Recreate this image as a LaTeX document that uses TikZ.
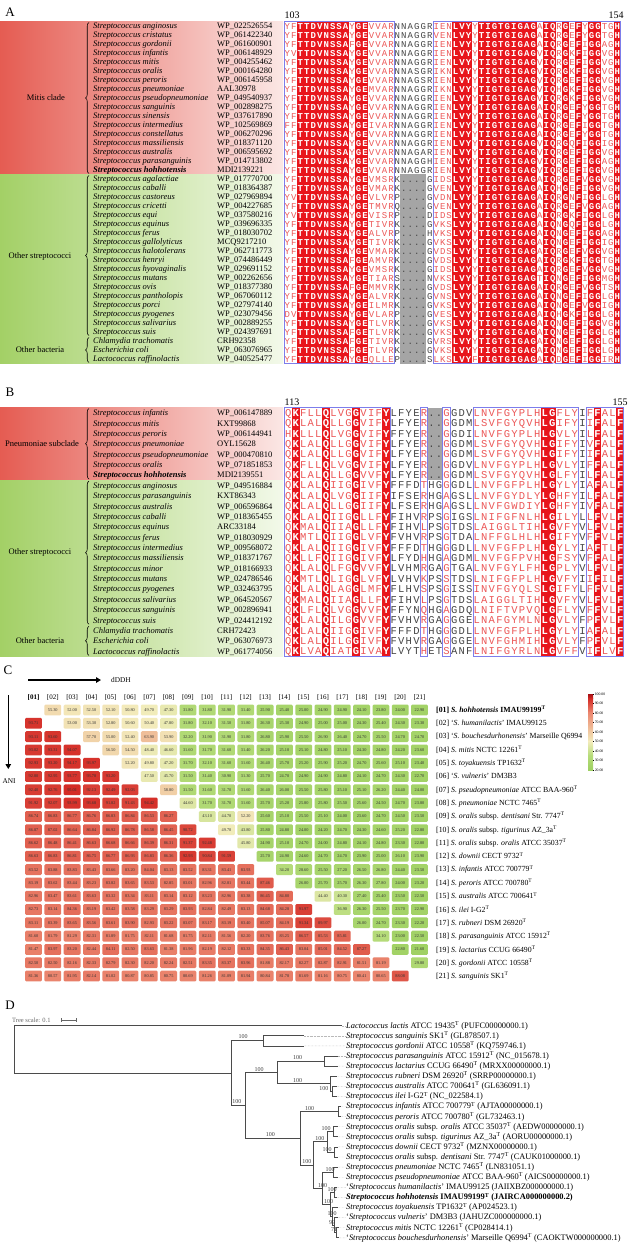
\documentclass[tikz,border=0pt]{standalone}
\usepackage{fontspec}
\setmainfont{Liberation Serif}
\newfontfamily\monofam{Liberation Mono}
\usetikzlibrary{decorations.pathreplacing,arrows.meta}

\definecolor{alnred}{RGB}{232,22,28}
\definecolor{alnpink}{RGB}{236,88,88}
\definecolor{alngray}{RGB}{70,70,70}
\definecolor{alnblue}{RGB}{125,125,235}
\definecolor{gapgray}{RGB}{165,165,165}
\definecolor{mitisL}{RGB}{229,92,82}
\definecolor{mitisR}{RGB}{251,231,229}
\definecolor{othL}{RGB}{163,208,102}
\definecolor{othR}{RGB}{243,249,234}
\definecolor{cRa}{RGB}{212,44,38}
\definecolor{cRb}{RGB}{235,136,112}
\definecolor{cYc}{RGB}{243,236,188}
\definecolor{cGd}{RGB}{182,220,122}
\definecolor{cGe}{RGB}{158,208,98}
\definecolor{legtop}{RGB}{165,15,20}
\definecolor{treegray}{RGB}{75,75,75}

\newcount\alnidx
\newtoks\alntoks
\def\setcls#1#2{\alnidx=0 \def\clspanel{#1}\setclswalk#2\relax}
\def\setclswalk#1{\ifx\relax#1\let\clsnext\relax\else\advance\alnidx by 1 \expandafter\xdef\csname cls\clspanel\the\alnidx\endcsname{#1}\let\clsnext\setclswalk\fi\clsnext}
\setcls{A}{pp RRRRRRRR p RR pppp nnnnnn ppp RRR p RRRRRRRRR p RR p R p R p RR p p R}
\setcls{B}{p R ppp R ppp R ppp R nnnn p nn p nnn ppppppppp RR ppp n p R pp R}

\def\xoA{284}\def\cwA{6.47}\def\yoA{26}\def\rhA{9}\def\bsA{3.1}
\def\xoB{284.2}\def\cwB{7.545}\def\yoB{412.7}\def\rhB{10.37}\def\bsB{3.7}

\def\alnstyleR{\bfseries\color{white}}
\def\alnstylep{\color{alnpink}}
\def\alnstylen{\color{alngray}}
\def\alnbox#1#2{\makebox[\alncw pt]{\csname alnstyle#1\endcsname #2}}
\def\alnadd#1{\advance\alnidx by 1 \edef\alntmp{\the\alntoks\noexpand\alnbox{\csname cls\alnpanel\the\alnidx\endcsname}{#1}}\alntoks=\expandafter{\alntmp}}
\def\alnwalk#1{\ifx\relax#1\let\alnnext\relax\else\def\alnnext{\alnadd{#1}\alnwalk}\fi\alnnext}
\def\alnrow#1#2#3{\alnidx=0 \alntoks={}\def\alnpanel{#1}\edef\alncw{\csname cw#1\endcsname}\alnwalk#3\relax
  \pgfmathsetmacro\alnx{\csname xo#1\endcsname}%
  \pgfmathsetmacro\alny{\csname yo#1\endcsname+(#2-1)*\csname rh#1\endcsname+\csname bs#1\endcsname}%
  \node[alntext#1] (aln#1#2) at (\alnx,\alny) {\the\alntoks};}

\def\mcellcol#1{%
  \pgfmathtruncatemacro\mseg{#1>=80?1:(#1>=50?2:(#1>=35?3:4))}%
  \ifcase\mseg\or
    \pgfmathtruncatemacro\mpc{min(100,max(0,(#1-80)*100/15))}\colorlet{cc}{cRa!\mpc!cRb}%
  \or
    \pgfmathtruncatemacro\mpc{(#1-50)*100/30}\colorlet{cc}{cRb!\mpc!cYc}%
  \or
    \pgfmathtruncatemacro\mpc{(#1-35)*100/15}\colorlet{cc}{cYc!\mpc!cGd}%
  \or
    \pgfmathtruncatemacro\mpc{max(0,(#1-20)*100/15)}\colorlet{cc}{cGd!\mpc!cGe}%
  \fi}

\expandafter\def\csname mrow1\endcsname{0,55.30,52.00,52.50,52.10,50.80,49.70,47.30,31.80,31.80,31.90,31.40,25.90,25.40,25.00,24.90,24.90,24.10,23.80,24.00,22.90}
\expandafter\def\csname mrow2\endcsname{93.71,0,53.00,53.30,52.80,50.60,50.40,47.80,31.80,32.10,31.50,31.80,26.30,25.30,24.90,25.00,25.00,24.30,25.40,24.30,23.30}
\expandafter\def\csname mrow3\endcsname{93.11,93.60,0,57.70,55.00,52.40,63.90,53.90,32.20,31.90,31.90,31.80,26.80,25.90,25.50,26.90,26.40,24.70,25.50,24.70,24.70}
\expandafter\def\csname mrow4\endcsname{93.02,93.31,94.07,0,56.50,54.50,48.40,46.60,31.60,31.70,31.60,31.40,26.20,25.10,25.10,24.80,25.10,24.30,24.80,24.20,23.60}
\expandafter\def\csname mrow5\endcsname{92.93,93.20,94.17,93.97,0,52.20,49.80,47.20,31.70,32.10,31.60,31.60,26.40,25.70,25.20,25.90,25.20,24.70,25.60,25.10,23.40}
\expandafter\def\csname mrow6\endcsname{92.80,92.95,93.77,93.78,93.20,0,47.50,45.70,31.50,31.40,30.90,31.30,25.70,24.70,24.90,24.90,24.80,24.10,24.70,24.30,22.70}
\expandafter\def\csname mrow7\endcsname{92.40,92.76,95.01,92.13,92.49,92.03,0,58.80,31.50,31.60,31.70,31.60,26.40,26.00,25.50,25.80,25.10,25.10,26.20,24.40,24.00}
\expandafter\def\csname mrow8\endcsname{91.92,92.07,93.99,93.68,91.82,91.43,94.42,0,44.60,31.70,31.70,31.60,25.70,25.20,25.80,25.80,25.50,25.60,24.50,24.70,23.80}
\expandafter\def\csname mrow9\endcsname{86.74,86.83,86.77,86.76,86.83,86.84,86.53,86.27,0,43.10,44.70,52.20,25.60,25.10,25.50,25.10,24.00,23.60,24.70,24.50,23.50}
\expandafter\def\csname mrow10\endcsname{86.87,87.02,86.64,86.84,86.92,86.78,86.58,86.45,90.72,0,49.70,43.80,25.80,24.80,24.00,24.20,24.70,24.30,24.60,25.20,22.80}
\expandafter\def\csname mrow11\endcsname{86.62,86.48,86.41,86.63,86.68,86.66,86.39,86.31,91.37,92.48,0,45.80,24.90,25.10,24.70,24.00,24.80,24.10,24.80,23.30,22.80}
\expandafter\def\csname mrow12\endcsname{86.63,86.83,86.81,86.75,86.77,86.93,86.83,86.36,92.93,90.84,91.59,0,25.70,24.90,24.60,24.70,24.70,23.90,25.00,26.10,23.90}
\expandafter\def\csname mrow13\endcsname{83.52,83.88,83.83,83.43,83.66,83.20,84.04,83.13,83.52,83.31,83.41,83.93,0,34.20,28.60,25.50,27.20,26.50,26.80,24.40,23.50}
\expandafter\def\csname mrow14\endcsname{83.19,83.62,83.44,83.23,83.82,83.65,83.53,82.85,83.01,82.96,82.81,83.44,87.46,0,26.00,25.70,25.70,26.30,27.80,24.00,23.20}
\expandafter\def\csname mrow15\endcsname{82.96,83.47,83.61,83.63,83.32,83.34,83.11,83.14,83.12,83.23,82.96,83.38,86.45,84.80,0,44.40,40.30,27.40,25.40,23.50,22.50}
\expandafter\def\csname mrow16\endcsname{82.73,83.14,84.36,83.19,83.42,83.58,83.29,83.29,83.93,82.84,82.49,83.13,84.68,84.28,91.97,0,36.90,26.30,25.50,23.70,22.90}
\expandafter\def\csname mrow17\endcsname{83.11,83.39,83.65,83.56,83.61,83.90,82.93,83.22,83.07,83.17,83.19,83.40,85.07,84.19,91.34,89.97,0,26.00,24.70,23.30,22.20}
\expandafter\def\csname mrow18\endcsname{81.60,81.79,81.29,82.31,81.89,81.75,82.11,81.68,81.75,82.11,81.56,82.20,83.76,83.25,86.57,85.53,85.81,0,34.10,23.00,22.50}
\expandafter\def\csname mrow19\endcsname{81.47,83.97,83.20,82.44,84.11,82.50,83.63,81.38,81.96,82.19,82.12,83.33,84.35,86.43,83.04,85.01,84.52,87.27,0,22.80,21.60}
\expandafter\def\csname mrow20\endcsname{82.50,82.50,82.16,82.33,82.79,82.30,82.20,82.24,82.51,83.35,83.37,83.96,81.88,82.17,82.27,82.87,82.91,81.51,81.19,0,29.80}
\expandafter\def\csname mrow21\endcsname{81.36,80.57,81.95,82.14,81.02,80.87,80.85,80.75,80.69,81.26,81.09,81.94,80.84,81.78,81.69,81.16,80.75,80.41,80.65,88.08,0}

\tikzset{
 plet/.style={font=\fontsize{13}{13}\selectfont, inner sep=0},
 splab/.style={anchor=base west, inner sep=0, font=\itshape\fontsize{8.5}{9}\selectfont},
 aclab/.style={anchor=base west, inner sep=0, font=\fontsize{8.5}{9}\selectfont},
 cladelab/.style={inner sep=0, font=\fontsize{8.5}{9}\selectfont},
 clbrace/.style={decorate, decoration={brace, amplitude=3.5pt}, line width=0.55pt},
 posnum/.style={inner sep=0, font=\fontsize{10}{10}\selectfont},
 alntextA/.style={anchor=base west, inner sep=0, font=\monofam\fontsize{9}{9}\selectfont},
 alntextB/.style={anchor=base west, inner sep=0, font=\monofam\fontsize{10.5}{10.5}\selectfont},
 blueframe/.style={draw=alnblue, line width=0.5pt},
 mcell/.style={rectangle, rounded corners=1.2pt, minimum width=16.8pt, minimum height=10.8pt, inner sep=0, font=\fontsize{4.3}{4.3}\selectfont, text=black!80},
 mhead/.style={inner sep=0, font=\fontsize{7}{7}\selectfont},
 clab/.style={anchor=west, inner sep=0, font=\fontsize{7.8}{8}\selectfont},
 leglab/.style={anchor=west, inner sep=0, font=\fontsize{3.8}{4}\selectfont},
 bigarrow/.style={line width=1.4pt, -{Triangle[length=5pt,width=5.5pt]}},
 branch/.style={draw=treegray, line width=0.8pt},
 leader/.style={draw=gray!55, line width=0.4pt, densely dotted},
 leaf/.style={anchor=west, inner sep=0, font=\fontsize{8.4}{9}\selectfont},
 boot/.style={inner sep=0, font=\fontsize{6}{6}\selectfont, text=black!75},
}

\begin{document}
\begin{tikzpicture}[x=1pt,y=-1pt]
\useasboundingbox (0,0) rectangle (631,1249);
\fill[white] (0,0) rectangle (631,1249);

% panel letters
\node[plet] (labA) at (10,12) {A};
\node[plet] (labB) at (10,392) {B};
\node[plet] (labC) at (8,670) {C};
\node[plet] (labD) at (10,1005) {D};

% ================= PANEL A =================
\shade[left color=mitisL,right color=mitisR] (0,21.5) rectangle (283,174.5);
\shade[left color=othL,right color=othR] (0,174.5) rectangle (283,363.5);
\draw[clbrace] (89,173.5) -- (89,22.5);
\draw[clbrace] (89,335.5) -- (89,175.5);
\draw[clbrace] (89,362.5) -- (89,337.5);
\node[cladelab] (cladeA1) at (46,98) {Mitis clade};
\node[cladelab] (cladeA2) at (40,256) {Other streptococci};
\node[cladelab] (cladeA3) at (40,350) {Other bacteria};

\foreach \i in {1,...,52}{\edef\alncls{\csname clsA\i\endcsname}\if R\alncls\fill[alnred] ({284+(\i-1)*6.47},21.5) rectangle ({284+\i*6.47+0.3},363.5);\fi}
\fill[gapgray] ({284+18*6.47},174.5) rectangle ({284+22*6.47},363.5);
\draw[blueframe] (284,21.5) rectangle ({284+17*6.47},363.5);
\draw[blueframe] ({284+23*6.47},21.5) rectangle ({284+52*6.47},363.5);
\node[posnum] (nA1) at (292,15) {103};
\node[posnum] (nA2) at (616,15) {154};

\foreach \i/\spn/\accn in {
1/Streptococcus anginosus/WP\_022526554,
2/Streptococcus cristatus/WP\_061422340,
3/Streptococcus gordonii/WP\_061600901,
4/Streptococcus infantis/WP\_006148929,
5/Streptococcus mitis/WP\_004255462,
6/Streptococcus oralis/WP\_000164280,
7/Streptococcus peroris/WP\_006145958,
8/Streptococcus pneumoniae/AAL30978,
9/Streptococcus pseudopneumoniae/WP\_049540937,
10/Streptococcus sanguinis/WP\_002898275,
11/Streptococcus sinensis/WP\_037617890,
12/Streptococcus intermedius/WP\_102569869,
13/Streptococcus constellatus/WP\_006270296,
14/Streptococcus massiliensis/WP\_018371120,
15/Streptococcus australis/WP\_006595692,
16/Streptococcus parasanguinis/WP\_014713802,
17/\bfseries Streptococcus hohhotensis/MDI2139221,
18/Streptococcus agalactiae/WP\_017770700,
19/Streptococcus caballi/WP\_018364387,
20/Streptococcus castoreus/WP\_027969894,
21/Streptococcus cricetti/WP\_004227685,
22/Streptococcus equi/WP\_037580216,
23/Streptococcus equinus/WP\_039696335,
24/Streptococcus ferus/WP\_018030702,
25/Streptococcus gallolyticus/MCQ9217210,
26/Streptococcus halotolerans/WP\_062711773,
27/Streptococcus henryi/WP\_074486449,
28/Streptococcus hyovaginalis/WP\_029691152,
29/Streptococcus mutans/WP\_002262656,
30/Streptococcus ovis/WP\_018377380,
31/Streptococcus pantholopis/WP\_067060112,
32/Streptococcus porci/WP\_027974140,
33/Streptococcus pyogenes/WP\_023079456,
34/Streptococcus salivarius/WP\_002889255,
35/Streptococcus suis/WP\_024397691,
36/Chlamydia trachomatis/CRH92358,
37/Escherichia coli/WP\_063076965,
38/Lactococcus raffinolactis/WP\_040525477}{
  \node[splab] (spA\i) at (93,{26+(\i-1)*9+2.9}) {\spn};
  \node[aclab] (acA\i) at (217,{26+(\i-1)*9+2.9}) {\accn};
}

\alnrow{A}{1}{YF TTDVNSSA Y GE VVAR NNAGGR IEN LVY Y TIGTGIGAG A IQ R G E F Y GG T G H}
\alnrow{A}{2}{YF TTDVNSSA Y GE VVAR NNAGGR VEN LVY Y TIGTGIGAG A IQ R G E F Y GG T G H}
\alnrow{A}{3}{YF TTDVNSSA F GE VVAR NNAGGR IEN LVY Y TIGTGIGAG A IQ R G E F I GG A G H}
\alnrow{A}{4}{YV TTDVNSSA Y GE VVAR NNAGGR IEN LVY Y TIGTGIGAG V IQ R G K F I GG V G H}
\alnrow{A}{5}{YF TTDVNSSA Y GE VVAR NNAGGR IEN LVY Y TIGTGIGAG V IQ R G E F I GG V G H}
\alnrow{A}{6}{YF TTDVNSSA Y GE VVAR NNASGR IKN LVY Y TIGTGIGAG V IQ R G K F I GG V G H}
\alnrow{A}{7}{YF TTDVNSSA Y GE VVAR NNAGSR IEN LVY Y TIGTGIGAG V IQ R G E F I GG V G H}
\alnrow{A}{8}{YF TTDVNSSA Y GE MVAR NNAGGR IKN LVY Y TIGTGIGAG V IQ H G K F I GG V G H}
\alnrow{A}{9}{YF TTDVNSSA Y GE VVAR NNAGGR IEN LVY Y TIGTGIGAG V IQ R G K F I GG V G H}
\alnrow{A}{10}{YF TTDVNSSA Y GE VVAR NNAGGR IEN LVY Y TIGTGIGAG A IQ R G E F Y GG T G H}
\alnrow{A}{11}{YF TTDVNSSA Y GE VVAR NNAGGR IEN LVY Y TIGTGIGAG A IQ R G E F Y GG T G H}
\alnrow{A}{12}{FF TTDVNSSA Y GE IVAR NNAGGR IEN LVY Y TIGTGIGAG A IQ R G E F I GG T G H}
\alnrow{A}{13}{YF TTDVNSSA Y GE VVAR NNAGGR IEN LVY Y TIGTGIGAG A IQ R G E F Y GG T G H}
\alnrow{A}{14}{YF TTDVNSSA Y GE VVAR NNAGGR IEN LVY Y TIGTGIGAG V IQ R G Q F I GG I G H}
\alnrow{A}{15}{YF TTDVNSSA Y GE VVAR NNAGAR IEN LVY Y TIGTGIGAG V IQ R G E F I GG V G H}
\alnrow{A}{16}{YF TTDVNSSA Y GE VVAR NNAGGH IEN LVY Y TIGTGIGAG V IQ R G E F I GG A G H}
\alnrow{A}{17}{YF TTDVNSSA Y GE VVAR NNAGGR IEN LVY Y TIGTGIGAG V IQ R G E F I GG V G H}
\alnrow{A}{18}{YF TTDVNSSA Y GE VMSR K....G IDS LVY Y TIGTGIGAG A IQ R G E F V GG V G H}
\alnrow{A}{19}{YF TTDVNSSA Y GE VMAR K....G VEN LVY Y TIGTGIGAG A IQ H G E F I GG V G H}
\alnrow{A}{20}{YV TTDVNSSA Y GE VLVR P....G VDN LVY Y TIGTGIGAG A IQ R G N F I GG L G H}
\alnrow{A}{21}{YF TTDVNSSA Y GE TMVR Q....G VEN LVY Y TIGTGIGAG A IQ R G E F V GG A G H}
\alnrow{A}{22}{YV TTDVNSSA Y GE VISR P....D IDS LVY Y TIGTGIGAG A IQ R G K F I GG L G H}
\alnrow{A}{23}{YF TTDVNSSA Y GE TIVR K....G VKS LVY Y TIGTGIGAG A IQ N G Q F I GG L G H}
\alnrow{A}{24}{YF TTDVNSSA Y GE ALVR P....H VKS LVY Y TIGTGIGAG A IQ N G E F I GG A G H}
\alnrow{A}{25}{YF TTDVNSSA Y GE TIVR K....G VKS LVY Y TIGTGIGAG A IQ N G E F I GG I G H}
\alnrow{A}{26}{YF TTDVNSSA Y GE VMAR K....G VDS LVY Y TIGTGIGAG A IQ R G E F V GG V G H}
\alnrow{A}{27}{YF TTDVNSSA F GE AMVR K....G VDS LVY Y TIGTGIGAG A IQ R G K F I GG T G H}
\alnrow{A}{28}{YF TTDVNSSA Y GE VMSR K....G IDS LVY Y TIGTGIGAG A IQ R G E F V GG V G H}
\alnrow{A}{29}{YF TTDVNSSA Y GE TIAR S....N VKS LVY Y TIGTGIGAG T IQ N G E F I GG M G H}
\alnrow{A}{30}{YF TTDVNSSA F GE MMVR K....G VDS LVY Y TIGTGIGAG A IQ R G E F V GG T S H}
\alnrow{A}{31}{YF TTDVNSSA Y GE ALVR K....G VNS LVY Y TIGTGIGAG A IQ N G E F I GG L G H}
\alnrow{A}{32}{YF TTDVNSSA Y GE ILMR K....G VKS LVY Y TIGTGIGAG A IQ N G E F V GG I G H}
\alnrow{A}{33}{DV TTDVNSSA Y GE VLAR P....G VES LVY Y TIGTGIGAG A IQ H G K F I GG L G H}
\alnrow{A}{34}{YF TTDVNSSA Y GE TLVR K....G VKS LVY Y TIGTGIGAG A IQ N G E F I GG V G H}
\alnrow{A}{35}{YF TTDVNSSA F GE TLVR K....G VKS LVY Y TIGTGIGAG A IQ N G E F I GG L G H}
\alnrow{A}{36}{YF TTDVNSSA F GE TIVR K....G VRS LVY Y TIGTGIGAG A IQ N G E F I GG L G H}
\alnrow{A}{37}{YF TTDVNSSA F GE TLVR K....G VKS LVY Y TIGTGIGAG A IQ N G E F I GG L G H}
\alnrow{A}{38}{YF TTDVNSSA Y GE QLLE P....S LKS LVY F TIGTGIGAG A IQ D G E F I GG I R H}

% ================= PANEL B =================
\shade[left color=mitisL,right color=mitisR] (0,407.5) rectangle (283,480.09);
\shade[left color=othL,right color=othR] (0,480.09) rectangle (283,656.38);
\draw[clbrace] (89,479.1) -- (89,408.5);
\draw[clbrace] (89,624.3) -- (89,481.1);
\draw[clbrace] (89,655.4) -- (89,626.3);
\node[cladelab] (cladeB1) at (42,443.8) {Pneumoniae subclade};
\node[cladelab] (cladeB2) at (40,552.7) {Other streptococci};
\node[cladelab] (cladeB3) at (40,640.8) {Other bacteria};

\foreach \i in {1,...,45}{\edef\alncls{\csname clsB\i\endcsname}\if R\alncls\fill[alnred] ({284.2+(\i-1)*7.545},407.5) rectangle ({284.2+\i*7.545+0.3},656.38);\fi}
\fill[gapgray] ({284.2+19*7.545},407.5) rectangle ({284.2+21*7.545},480.09);
\draw[blueframe] (284.2,407.5) rectangle ({284.2+14*7.545},656.38);
\draw[blueframe] ({284.2+18*7.545},407.5) rectangle ({284.2+19*7.545},656.38);
\draw[blueframe] ({284.2+21*7.545},407.5) rectangle ({284.2+22*7.545},656.38);
\draw[blueframe] ({284.2+25*7.545},407.5) rectangle ({284.2+39*7.545},656.38);
\draw[blueframe] ({284.2+40*7.545},407.5) rectangle ({284.2+45*7.545},656.38);
\node[posnum] (nB1) at (292,402) {113};
\node[posnum] (nB2) at (620,402) {155};

\foreach \i/\spn/\accn in {
1/Streptococcus infantis/WP\_006147889,
2/Streptococcus mitis/KXT99868,
3/Streptococcus peroris/WP\_006144941,
4/Streptococcus pneumoniae/OYL15628,
5/Streptococcus pseudopneumoniae/WP\_000470810,
6/Streptococcus oralis/WP\_071851853,
7/\bfseries Streptococcus hohhotensis/MDI2139551,
8/Streptococcus anginosus/WP\_049516884,
9/Streptococcus parasanguinis/KXT86343,
10/Streptococcus australis/WP\_006596864,
11/Streptococcus caballi/WP\_018365455,
12/Streptococcus equinus/ARC33184,
13/Streptococcus ferus/WP\_018030929,
14/Streptococcus intermedius/WP\_009568072,
15/Streptococcus massiliensis/WP\_018371767,
16/Streptococcus minor/WP\_018166933,
17/Streptococcus mutans/WP\_024786546,
18/Streptococcus pyogenes/WP\_032463795,
19/Streptococcus salivarius/WP\_064520567,
20/Streptococcus sanguinis/WP\_002896941,
21/Streptococcus suis/WP\_024412192,
22/Chlamydia trachomatis/CRH72423,
23/Escherichia coli/WP\_063076973,
24/Lactococcus raffinolactis/WP\_061774056}{
  \node[splab] (spB\i) at (93,{412.7+(\i-1)*10.37+3}) {\spn};
  \node[aclab] (acB\i) at (217,{412.7+(\i-1)*10.37+3}) {\accn};
}

\alnrow{B}{1}{Q K FLL Q LVG G VIF Y LFYER .. G GDV LNVFGY PLH LG FLY I F F AL F}
\alnrow{B}{2}{Q K LAL Q LLG G VIF Y LFYER .. G GDM LSVFGY QVH LG IFY I I F AL F}
\alnrow{B}{3}{H K LLL Q LVG G VIF Y FFYER .. G GDI LNVFGY PLH LG VLY I L F AL F}
\alnrow{B}{4}{Q K LAL Q LLG G VIF Y LFYER .. G GDM LSVFGY QVH LG IFY I V F AL F}
\alnrow{B}{5}{Q K LAL Q LLG G VIF Y LFYER .. G GDM LSVFGY QVH LG IFY I I F AL F}
\alnrow{B}{6}{Q K FLL Q LVG G VIF Y LFYER .. G GDV LNVFGY PLH LG VLY I F F AL F}
\alnrow{B}{7}{Q K LAL Q LLG G VVF Y LFYER .. G GDM LSVFGY QVH LG LFY I L F AL F}
\alnrow{B}{8}{Q K LAL Q IIG G IVF Y FFFDT HG G GDL LNVFGF PLH LG YLY I A F AL F}
\alnrow{B}{9}{Q K LAL Q LVG G IIF Y IFSER HG A GSL LNVFGY DLY LG HFY I L F AL F}
\alnrow{B}{10}{Q K LAL Q LLG G IIF Y LFSER HG A GSL LNVFGW DIY LG HFY I V F AL F}
\alnrow{B}{11}{Q K LAL Q IIG G LLF Y FIHVR PS G IGS LNIFGF NLH LG ILY L L F VL F}
\alnrow{B}{12}{Q K MAL Q IIA G LLF Y FIHVL PS G TDS LAIGGL TIH LG VFY V L F VL F}
\alnrow{B}{13}{Q K MTL Q IIG G LVF Y FVHVR PS G TDA LNFFGL HLH LG IFY V F F VL F}
\alnrow{B}{14}{Q K LAL Q IIG G IVF Y FFFDT HG G GDL LNVFGF PLH LG YLY I A F TL F}
\alnrow{B}{15}{Q K LLF Q IIG G IVF Y LFYDH HG A GDM LNVFGF PVH LG FSY V F F AL F}
\alnrow{B}{16}{Q K LAL Q LFG G VVF Y LVHMR GA G TGA LNVFGY LFH LG PLY V L F VL F}
\alnrow{B}{17}{Q K MTL Q LIG G LVF Y LVHVK PS S TDS LNIFGF PLH LG VFY I I F IL F}
\alnrow{B}{18}{Q K LAL Q LAG G LMF Y FLHVS PS G ISS INVFGY QLS LG IFY L F F VL F}
\alnrow{B}{19}{Q K MAL Q IIA G LLF Y FIHVL PS G TDS LAIGGL TIH LG VFY V L F VL F}
\alnrow{B}{20}{Q K LFL Q LVG G VVF Y FFYNQ HG A GDQ LNIFTV PVQ LG FLY V F F VL F}
\alnrow{B}{21}{Q K LAL Q ILG G VVF Y FVHVR GA G GGE LNAFGY MLN LG VLY F P F VL F}
\alnrow{B}{22}{Q K LAL Q IIG G IVF Y FFFDT HG G GDL LNVFGF PLH LG YLY I A F AL F}
\alnrow{B}{23}{Q K LAL Q ILG G IVF Y FVHVR GA G GGE LNVFGH MIH LG VLY F P F VL F}
\alnrow{B}{24}{Q K LVA Q IAT G IVA Y LVYTH ET S ANF LNIFGY RLN LG VFF V I F LV F}

% ================= PANEL C =================
\coordinate (ddhs) at (28,680);
\coordinate (ddhe) at (101,680);
\draw[bigarrow] (ddhs) -- (ddhe);
\node[anchor=west, inner sep=0, font=\fontsize{7.3}{8}\selectfont] (ddhlab) at (111,680) {dDDH};
\coordinate (anis) at (8.3,695);
\coordinate (anie) at (8.3,769);
\draw[bigarrow] (anis) -- (anie);
\node[inner sep=0, font=\fontsize{7.3}{8}\selectfont] (anilab) at (9,781) {ANI};

\node[mhead, font=\bfseries\fontsize{7}{7}\selectfont] (h1) at (33.5,698) {[01]};
\foreach \c in {2,...,21}{
  \ifnum\c<10 \def\hdtxt{[0\c]}\else\def\hdtxt{[\c]}\fi
  \node[mhead] (h\c) at ({33.5+(\c-1)*19.3},698) {\hdtxt};
}

\foreach \r in {1,...,21}{
  \edef\mlist{\csname mrow\r\endcsname}
  \foreach \v [count=\c] in \mlist {
    \ifdim\v pt>1pt
      \mcellcol{\v}
      \node[mcell, fill=cc] (m-\r-\c) at ({33.5+(\c-1)*19.3},{710+(\r-1)*13.3}) {\v};
    \fi
  }
}

\node[clab] (cl1) at (436,710.0) {\bfseries [01] \textit{S. hohhotensis} IMAU99199\textsuperscript{T}};
\node[clab] (cl2) at (436,723.3) {[02] ‘\textit{S. humanilactis}’ IMAU99125};
\node[clab] (cl3) at (436,736.6) {[03] ‘\textit{S. bouchesdurhonensis}’ Marseille Q6994};
\node[clab] (cl4) at (436,749.9) {[04] \textit{S. mitis} NCTC 12261\textsuperscript{T}};
\node[clab] (cl5) at (436,763.2) {[05] \textit{S. toyakuensis} TP1632\textsuperscript{T}};
\node[clab] (cl6) at (436,776.5) {[06] ‘\textit{S. vulneris}’ DM3B3};
\node[clab] (cl7) at (436,789.8) {[07] \textit{S. pseudopneumoniae} ATCC BAA-960\textsuperscript{T}};
\node[clab] (cl8) at (436,803.1) {[08] \textit{S. pneumoniae} NCTC 7465\textsuperscript{T}};
\node[clab] (cl9) at (436,816.4) {[09] \textit{S. oralis} subsp. \textit{dentisani} Str. 7747\textsuperscript{T}};
\node[clab] (cl10) at (436,829.7) {[10] \textit{S. oralis} subsp. \textit{tigurinus} AZ\_3a\textsuperscript{T}};
\node[clab] (cl11) at (436,843.0) {[11] \textit{S. oralis} subsp. \textit{oralis} ATCC 35037\textsuperscript{T}};
\node[clab] (cl12) at (436,856.3) {[12] \textit{S. downii} CECT 9732\textsuperscript{T}};
\node[clab] (cl13) at (436,869.6) {[13] \textit{S. infantis} ATCC 700779\textsuperscript{T}};
\node[clab] (cl14) at (436,882.9) {[14] \textit{S. peroris} ATCC 700780\textsuperscript{T}};
\node[clab] (cl15) at (436,896.2) {[15] \textit{S. australis} ATCC 700641\textsuperscript{T}};
\node[clab] (cl16) at (436,909.5) {[16] \textit{S. ilei} I-G2\textsuperscript{T}};
\node[clab] (cl17) at (436,922.8) {[17] \textit{S. rubneri} DSM 26920\textsuperscript{T}};
\node[clab] (cl18) at (436,936.1) {[18] \textit{S. parasanguinis} ATCC 15912\textsuperscript{T}};
\node[clab] (cl19) at (436,949.4) {[19] \textit{S. lactarius} CCUG 66490\textsuperscript{T}};
\node[clab] (cl20) at (436,962.7) {[20] \textit{S. gordonii} ATCC 10558\textsuperscript{T}};
\node[clab] (cl21) at (436,976.0) {[21] \textit{S. sanguinis} SK1\textsuperscript{T}};

% legend
\shade[top color=legtop, bottom color=cRa] (588,694) rectangle (593,698.75);
\shade[top color=cRa, bottom color=cRb] (588,698.7) rectangle (593,713);
\shade[top color=cRb, bottom color=cYc] (588,712.9) rectangle (593,741.5);
\shade[top color=cYc, bottom color=cGd] (588,741.4) rectangle (593,755.75);
\shade[top color=cGd, bottom color=cGe] (588,755.6) rectangle (593,770);
\foreach \v [count=\k] in {100,90,80,70,60,50,40,30,20}{
  \draw[line width=0.3pt] (593,{694+(100-\v)*0.95}) -- (594.3,{694+(100-\v)*0.95});
  \node[leglab] (lg\k) at (594.6,{694+(100-\v)*0.95}) {\v.00};
}

% ================= PANEL D =================
\node[anchor=west, inner sep=0, font=\fontsize{6.5}{7}\selectfont, text=black!60] (tscale) at (12,1020) {Tree scale: 0.1};
\coordinate (sb1) at (61,1020);
\coordinate (sb2) at (76,1020);
\draw[black!60, line width=0.6pt] (sb1) -- (sb2);
\draw[black!60, line width=0.5pt] (61,1018.3) -- (61,1021.7) (76,1018.3) -- (76,1021.7);

\coordinate (root) at (14,1049.4);
\coordinate (n1) at (231,1073.1);
\coordinate (nsg) at (263,1040.85);
\coordinate (n2) at (245,1105.35);
\coordinate (n3) at (277,1072.4);
\coordinate (n5) at (324,1061.05);
\coordinate (n6) at (330,1083.78);
\coordinate (n7) at (332,1091.35);
\coordinate (n4) at (300,1138.3);
\coordinate (n8) at (338,1111.55);
\coordinate (n9) at (313,1165.05);
\coordinate (n10) at (327,1141.85);
\coordinate (n10a) at (333,1131.75);
\coordinate (n10b) at (334,1151.95);
\coordinate (n11) at (322,1188.25);
\coordinate (n12) at (333,1172.15);
\coordinate (n13) at (330,1204.35);
\coordinate (nh) at (334,1192.35);
\coordinate (n14) at (332,1216.35);
\coordinate (n15) at (334,1225.2);
\coordinate (n16) at (336,1232.75);
\foreach \i/\tx in {1/342,2/304,3/304,4/338,5/338,6/337,7/337,8/337,9/341,10/341,11/338,12/338,13/338,14/338,15/338,16/338,17/337,18/337,19/338,20/338,21/339,22/339}
  \coordinate (t\i) at (\tx,{1025.7+(\i-1)*10.1});

\foreach \p/\ch in {root/t1, root/n1, n1/nsg, n1/n2, nsg/t2, nsg/t3, n2/n3, n2/n4, n3/n5, n3/n6, n5/t4, n5/t5, n6/t6, n6/n7, n7/t7, n7/t8, n4/n8, n4/n9, n8/t9, n8/t10, n9/n10, n9/n11, n10/n10a, n10/n10b, n10a/t11, n10a/t12, n10b/t13, n10b/t14, n11/n12, n11/n13, n12/t15, n12/t16, n13/nh, n13/n14, nh/t17, nh/t18, n14/t19, n14/n15, n15/t20, n15/n16, n16/t21, n16/t22}
  \draw[branch] (\p) |- (\ch);

\node[leaf] (L1) at (346,1025.7) {\textit{Lactococcus lactis} ATCC 19435\textsuperscript{T} (PUFC00000000.1)};
\node[leaf] (L2) at (346,1035.8) {\textit{Streptococcus sanguinis} SK1\textsuperscript{T} (GL878507.1)};
\node[leaf] (L3) at (346,1045.9) {\textit{Streptococcus gordonii} ATCC 10558\textsuperscript{T} (KQ759746.1)};
\node[leaf] (L4) at (346,1056.0) {\textit{Streptococcus parasanguinis} ATCC 15912\textsuperscript{T} (NC\_015678.1)};
\node[leaf] (L5) at (346,1066.1) {\textit{Streptococcus lactarius} CCUG 66490\textsuperscript{T} (MRXX00000000.1)};
\node[leaf] (L6) at (346,1076.2) {\textit{Streptococcus rubneri} DSM 26920\textsuperscript{T} (SRRP00000000.1)};
\node[leaf] (L7) at (346,1086.3) {\textit{Streptococcus australis} ATCC 700641\textsuperscript{T} (GL636091.1)};
\node[leaf] (L8) at (346,1096.4) {\textit{Streptococcus ilei} I-G2\textsuperscript{T} (NC\_022584.1)};
\node[leaf] (L9) at (346,1106.5) {\textit{Streptococcus infantis} ATCC 700779\textsuperscript{T} (AJTA00000000.1)};
\node[leaf] (L10) at (346,1116.6) {\textit{Streptococcus peroris} ATCC 700780\textsuperscript{T} (GL732463.1)};
\node[leaf] (L11) at (346,1126.7) {\textit{Streptococcus oralis} subsp. \textit{oralis} ATCC 35037\textsuperscript{T} (AEDW00000000.1)};
\node[leaf] (L12) at (346,1136.8) {\textit{Streptococcus oralis} subsp. \textit{tigurinus} AZ\_3a\textsuperscript{T} (AORU00000000.1)};
\node[leaf] (L13) at (346,1146.9) {\textit{Streptococcus downii} CECT 9732\textsuperscript{T} (MZNX00000000.1)};
\node[leaf] (L14) at (346,1157.0) {\textit{Streptococcus oralis} subsp. \textit{dentisani} Str. 7747\textsuperscript{T} (CAUK01000000.1)};
\node[leaf] (L15) at (346,1167.1) {\textit{Streptococcus pneumoniae} NCTC 7465\textsuperscript{T} (LN831051.1)};
\node[leaf] (L16) at (346,1177.2) {\textit{Streptococcus pseudopneumoniae} ATCC BAA-960\textsuperscript{T} (AICS00000000.1)};
\node[leaf] (L17) at (346,1187.3) {‘\textit{Streptococcus humanilactis}’ IMAU99125 (JAIIXBZ000000000.1)};
\node[leaf] (L18) at (346,1197.4) {\bfseries\textit{Streptococcus hohhotensis} IMAU99199\textsuperscript{T} (JAIRCA000000000.2)};
\node[leaf] (L19) at (346,1207.5) {\textit{Streptococcus toyakuensis} TP1632\textsuperscript{T} (AP024523.1)};
\node[leaf] (L20) at (346,1217.6) {‘\textit{Streptococcus vulneris}’ DM3B3 (JAHUZC000000000.1)};
\node[leaf] (L21) at (346,1227.7) {\textit{Streptococcus mitis} NCTC 12261\textsuperscript{T} (CP028414.1)};
\node[leaf] (L22) at (346,1237.8) {‘\textit{Streptococcus bouchesdurhonensis}’ Marseille Q6994\textsuperscript{T} (CAOKTW000000000.1)};
\foreach \i in {1,...,22} \draw[leader] (t\i) -- (L\i.west);

\foreach \x/\y/\t [count=\k] in {243/1037/100, 297.6/1058/100, 259.1/1070/100, 297.6/1080.5/100, 323.9/1089/100, 236.8/1102/100, 309.7/1109/100, 270.4/1135/100, 326/1128.5/100, 319.8/1139/100, 327/1149.3/100, 306.9/1161.8/100, 330/1169.2/100, 322.7/1185.8/100, 332/1189.5/100, 328.7/1201.8/100, 332/1214/100, 332/1222.5/99, 334/1230/71}
  \node[boot] (bs\k) at (\x,\y) {\t};
\end{tikzpicture}
\end{document}
